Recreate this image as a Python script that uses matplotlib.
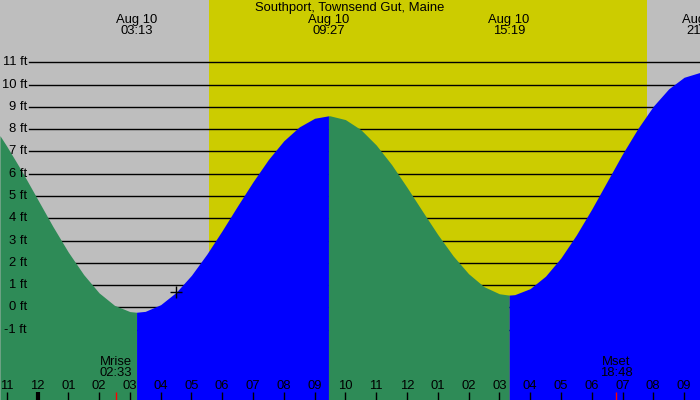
import matplotlib
matplotlib.use("Agg")
import matplotlib.pyplot as plt
import numpy as np

plt.rcParams['font.family'] = ['Liberation Sans', 'DejaVu Sans']

title = "Southport, Townsend Gut, Maine"
date_label = "Aug 10"

# hours after midnight Aug 10, tide height in ft
times = [-1.22, -1.0, -0.5, 0.0, 0.5, 1.0, 1.5, 2.0, 2.5, 3.0, 3.217,
         3.5, 4.0, 4.5, 5.0, 5.5, 6.0, 6.5, 7.0, 7.5, 8.0, 8.5, 9.0, 9.45,
         9.5, 10.0, 10.5, 11.0, 11.5, 12.0, 12.5, 13.0, 13.5, 14.0, 14.5, 15.0, 15.317,
         15.5, 16.0, 16.5, 17.0, 17.5, 18.0, 18.5, 19.0, 19.5, 20.0, 20.5, 21.0, 21.52]
heights = [7.71, 7.24, 6.09, 4.86, 3.63, 2.48, 1.47, 0.65, 0.09, -0.19, -0.22,
           -0.18, 0.12, 0.67, 1.44, 2.39, 3.45, 4.56, 5.64, 6.64, 7.48, 8.10, 8.49, 8.60,
           8.60, 8.43, 7.98, 7.29, 6.41, 5.39, 4.32, 3.27, 2.31, 1.51, 0.93, 0.61, 0.55,
           0.57, 0.84, 1.40, 2.22, 3.25, 4.41, 5.65, 6.89, 8.03, 9.03, 9.81, 10.33, 10.55]

# high / low tides
ext_times = [-3.2, 3.217, 9.45, 15.317, 21.6]
ext_heights = [9.9, -0.22, 8.6, 0.55, 10.55]
ext_labels = ["20:48", "03:13", "09:27", "15:19", "21:36"]

sunrise = 5.57
sunset = 19.8
moon_times = [2.55, 18.8]
moon_labels = ["Mrise", "Mset"]
moon_clock = ["02:33", "18:48"]

hours = list(range(-1, 22))
ft_levels = list(range(-1, 12))

now_time = 4.5
now_height = 0.67

t = np.array(times)
h = np.array(heights)
fs = 9.4

fig = plt.figure(figsize=(7, 4), dpi=100)
ax = fig.add_axes([0, 0, 1, 1])
xmin, xmax = -1.218, 21.517
ymin, ymax = -4.16, 13.80
ax.set_xlim(xmin, xmax)
ax.set_ylim(ymin, ymax)
ax.axis("off")

# night / day background
ax.axvspan(xmin, xmax, color="#bebebe", lw=0, zorder=0)
ax.axvspan(sunrise, sunset, color="#cccc00", lw=0, zorder=0)

# foot lines
for f in ft_levels:
    ax.axhline(f, xmin=29/700, xmax=1, color="black", lw=1, zorder=1)
    ax.text(27/700, f, "%d ft" % f, transform=ax.get_yaxis_transform(),
            ha="right", va="center", fontsize=fs, zorder=4)

# tide fill: green falling, blue rising
for k in range(len(ext_times) - 1):
    a, b = ext_times[k], ext_times[k + 1]
    m = (t >= a) & (t <= b)
    if m.sum() < 2:
        continue
    col = "#2e8b57" if ext_heights[k + 1] < ext_heights[k] else "#0000ff"
    ax.fill_between(t[m], h[m], ymin, color=col, lw=0, zorder=2)

# high / low labels
tr = ax.get_xaxis_transform()
ax.text(0.5, 1 - 8/400, title, transform=ax.transAxes, ha="center", va="center", fontsize=fs, zorder=4)
for et, el in zip(ext_times, ext_labels):
    if et < xmin:
        continue
    ax.text(et, 1 - 20/400, date_label, transform=tr, ha="center", va="center", fontsize=fs, zorder=4, clip_on=True)
    ax.text(et, 1 - 31.5/400, el, transform=tr, ha="center", va="center", fontsize=fs, zorder=4, clip_on=True)

# moon rise / set
for mt, ml, mc in zip(moon_times, moon_labels, moon_clock):
    ax.text(mt, 38.3/400, ml, transform=tr, ha="center", va="center", fontsize=fs, zorder=4)
    ax.text(mt, 26.7/400, mc, transform=tr, ha="center", va="center", fontsize=fs, zorder=4)
    ax.vlines(mt, 0, 8/400, transform=tr, color="red", lw=1, zorder=4)

# hour ticks
for hr in hours:
    lbl = "%02d" % ((hr % 12) or 12)
    ax.text(hr, 14/400, lbl, transform=tr, ha="center", va="center", fontsize=fs, zorder=4)
    ax.vlines(hr, 0, 8/400, transform=tr, color="black", lw=3 if hr == 0 else 1, zorder=4)

ax.plot(now_time, now_height, marker="+", ms=9, mew=1, color="black", zorder=5)

fig.savefig("out.png", dpi=100)
